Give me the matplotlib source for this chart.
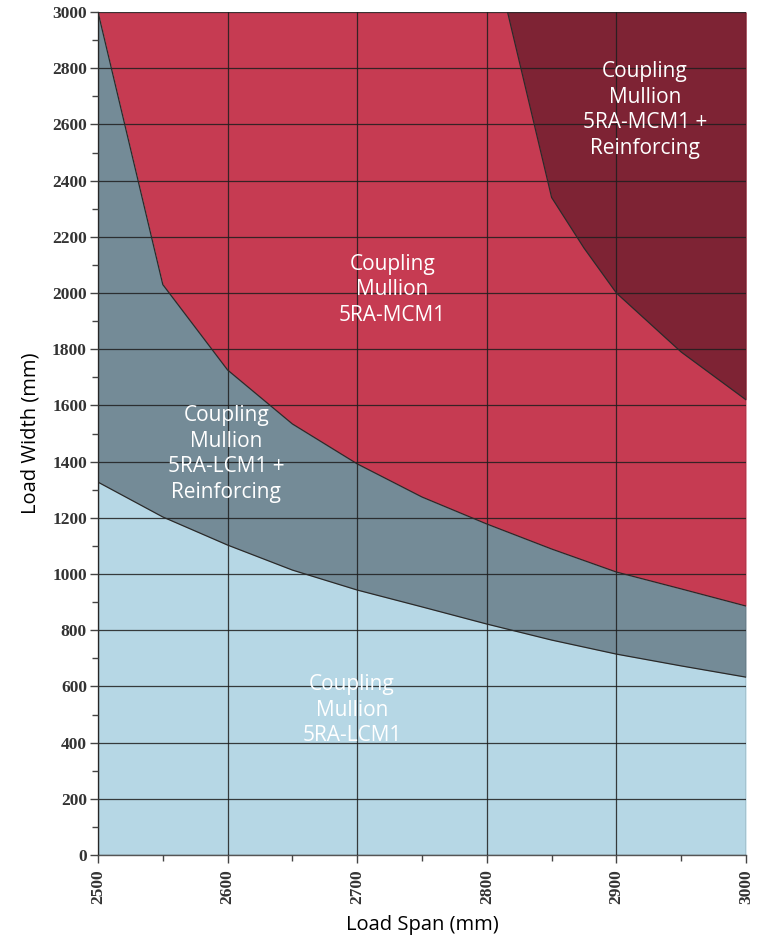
import matplotlib.pyplot as plt
import numpy as np

# span values (mm)
span = [2500, 2550, 2600, 2650, 2700, 2750, 2800, 2850, 2900, 2950, 3000]
# upper limit of each mullion option (load width, mm)
lcm1 = [1327, 1203, 1103, 1014, 943, 883, 822, 765, 715, 673, 633]
lcm1_reinf = [3000, 2030, 1726, 1534, 1392, 1274, 1178, 1089, 1007, 947, 886]
# lower edge of the "MCM1 + Reinforcing" zone
mcm1_span = [2816, 2850, 2875, 2900, 2950, 3000]
mcm1_edge = [3000, 2340, 2160, 2000, 1790, 1620]

c_light = '#b6d7e5'
c_grey = '#748b97'
c_red = '#c63b52'
c_dark = '#7e2334'
edge = '#2a2a2a'

fig = plt.figure(figsize=(7.61, 9.40), dpi=100)
ax = fig.add_axes([0.1288, 0.0904, 0.8515, 0.8968])

top = [3000] * len(span)
ax.fill_between(span, 0, lcm1, color=c_light, lw=0, zorder=1)
ax.fill_between(span, lcm1, lcm1_reinf, color=c_grey, lw=0, zorder=1)
ax.fill_between(span, lcm1_reinf, top, color=c_red, lw=0, zorder=1)
ax.fill_between(mcm1_span, mcm1_edge, [3000] * len(mcm1_span), color=c_dark, lw=0, zorder=2)

ax.plot(span, lcm1, color=edge, lw=0.9, zorder=3)
ax.plot(span, lcm1_reinf, color=edge, lw=0.9, zorder=3)
ax.plot(mcm1_span, mcm1_edge, color=edge, lw=0.9, zorder=3)

ax.set_xlim(2500, 3000)
ax.set_ylim(0, 3000)
ax.set_xticks(np.arange(2500, 3001, 100))
ax.set_xticks(np.arange(2550, 3000, 100), minor=True)
ax.set_yticks(np.arange(0, 3001, 200))
ax.set_yticks(np.arange(100, 3000, 200), minor=True)
ax.grid(True, which='major', color='#1e1e1e', lw=0.9, alpha=0.85, zorder=4)
ax.set_axisbelow(False)

serif = {'family': 'Liberation Serif', 'weight': 'bold', 'size': 12.5}
for lab in ax.get_yticklabels():
    lab.set_fontproperties(serif)
    lab.set_color('#333333')
for lab in ax.get_xticklabels():
    lab.set_fontproperties(serif)
    lab.set_rotation(90)
    lab.set_color('#333333')
ax.tick_params(which='both', direction='out', color='#444444', width=1)
ax.tick_params(which='major', length=6)
ax.tick_params(which='minor', length=4)
ax.tick_params(axis='x', pad=4)
ax.tick_params(axis='y', pad=2)

for s in ['top', 'right']:
    ax.spines[s].set_visible(False)
for s in ['left', 'bottom']:
    ax.spines[s].set_color('#555555')
    ax.spines[s].set_linewidth(1)

ax.set_xlabel('Load Span (mm)', fontsize=14.5, family='Open Sans', labelpad=8)
ax.set_ylabel('Load Width (mm)', fontsize=14.5, family='Open Sans', labelpad=8)

lbl = dict(color='white', fontsize=15, family='Open Sans', ha='center', va='center',
           linespacing=1.28, zorder=5)
ax.text(2727, 2011, 'Coupling\nMullion\n5RA-MCM1', **lbl)
ax.text(2922, 2651, 'Coupling\nMullion\n5RA-MCM1 +\nReinforcing', **lbl)
ax.text(2599, 1427, 'Coupling\nMullion\n5RA-LCM1 +\nReinforcing', **lbl)
ax.text(2696, 516, 'Coupling\nMullion\n5RA-LCM1', **lbl)

fig.savefig('out.png', dpi=100)
